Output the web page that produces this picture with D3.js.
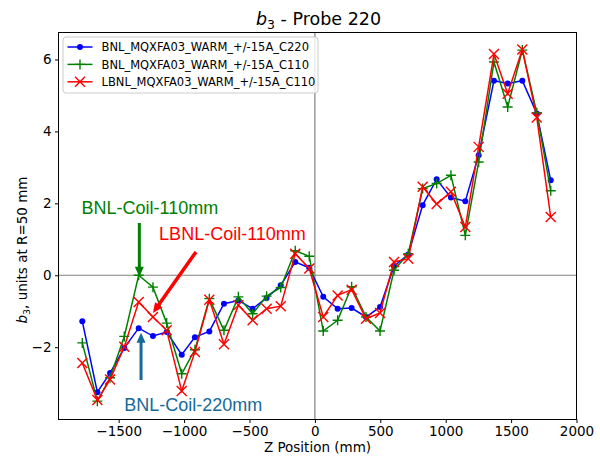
<!DOCTYPE html>
<html>
<head>
<meta charset="utf-8">
<script src="https://cdn.jsdelivr.net/npm/d3@7"></script>
<style>
  body { margin: 0; background: #fff; }
  text { font-family: "DejaVu Sans", sans-serif; }
</style>
</head>
<body>
<div id="chart"></div>
<script>
var width = 600;
var height = 457;

// z positions (mm) shared by the three scans
var zPos = [-1778, -1663, -1566, -1457, -1347, -1238, -1133, -1018, -917, -807,
            -695, -585, -476, -369, -261, -150, -43, 64, 174, 281,
            391, 498, 605, 714, 824, 931, 1040, 1150, 1252, 1369,
            1474, 1586, 1696, 1803];

var bnlC220 = [-1.28, -3.25, -2.72, -2.02, -1.47, -1.69, -1.58, -2.21, -1.72, -1.56,
               -0.79, -0.70, -0.93, -0.63, -0.28, 0.37, 0.21, -0.60, -0.93, -0.91,
               -1.16, -0.88, 0.25, 0.58, 1.95, 2.67, 2.16, 2.06, 3.34, 5.41,
               5.33, 5.41, 4.50, 2.64];

var bnlC110 = [-1.88, -3.50, -2.85, -1.70, 0.00, -0.33, -1.33, -2.74, -2.07, -0.65,
               -1.53, -0.60, -1.07, -0.58, -0.34, 0.68, 0.53, -1.55, -1.25, -0.32,
               -1.16, -1.55, 0.14, 0.60, 2.41, 2.55, 2.78, 1.11, 3.15, 5.93,
               4.68, 6.26, 4.52, 2.35];

var lbnlC110 = [-2.44, -3.47, -2.90, -1.99, -0.74, -1.16, -1.53, -3.22, -2.13, -0.68,
                -1.92, -0.83, -1.25, -0.93, -0.86, 0.60, 0.19, -1.16, -0.56, -0.40,
                -1.21, -1.05, 0.37, 0.46, 2.46, 1.98, 2.32, 1.34, 3.57, 6.15,
                5.05, 6.28, 4.39, 1.62];

var seriesNames = ["BNL_MQXFA03_WARM_+/-15A_C220", "BNL_MQXFA03_WARM_+/-15A_C110", "LBNL_MQXFA03_WARM_+/-15A_C110"];
var seriesColours = ["#0000ff", "#008000", "#ff0000"];
var seriesMarkers = ["dot", "plus", "cross"];

var xTicks = [-1500, -1000, -500, 0, 500, 1000, 1500, 2000];
var yTicks = [-2, 0, 2, 4, 6];

// annotations: text position, arrow tail, arrow tip (data coords)
var notes = [
  { label: "BNL-Coil-110mm", colour: "#008000", tx: -1261, ty: 1.69, x0: -1342, y0: 1.45, x1: -1342, y1: -0.04, sw: 3 },
  { label: "LBNL-Coil-110mm", colour: "#ff0000", tx: -630, ty: 0.98, x0: -909, y0: 0.65, x1: -1238, y1: -1.05, sw: 3.5 },
  { label: "BNL-Coil-220mm", colour: "#17699a", tx: -930, ty: -3.76, x0: -1329, y0: -2.91, x1: -1329, y1: -1.60, sw: 3 }
];

var plot = { left: 58.5, right: 576.5, top: 32.5, bottom: 419.5 };

var svg = d3.select("#chart")
    .append("svg")
    .attr("width", width)
    .attr("height", height);

var xScale = d3.scaleLinear().domain([-1960, 2000]).range([plot.left, plot.right]);
var yScale = d3.scaleLinear().domain([-4.01, 6.75]).range([plot.bottom, plot.top]);

var fmt = function(d) { return d < 0 ? "\u2212" + Math.abs(d) : "" + d; };

// zero lines
svg.append("line")
    .attr("x1", plot.left).attr("x2", plot.right)
    .attr("y1", yScale(0)).attr("y2", yScale(0))
    .style("stroke", "#808080").style("stroke-width", 1.2);
svg.append("line")
    .attr("x1", xScale(0)).attr("x2", xScale(0))
    .attr("y1", plot.top).attr("y2", plot.bottom)
    .style("stroke", "#808080").style("stroke-width", 1.2);

var g = svg.append("g");

var allSeries = [bnlC220, bnlC110, lbnlC110];

function drawMarker(sel, type, colour) {
    if (type == "dot") {
        sel.append("circle").attr("r", 3).style("fill", colour);
    } else if (type == "plus") {
        sel.append("path").attr("d", "M-5,0H5M0,-5V5")
            .style("stroke", colour).style("stroke-width", 1.4).style("fill", "none");
    } else {
        sel.append("path").attr("d", "M-5,-5L5,5M-5,5L5,-5")
            .style("stroke", colour).style("stroke-width", 1.4).style("fill", "none");
    }
}

var line = d3.line()
    .x(function(d) { return xScale(d.z); })
    .y(function(d) { return yScale(d.v); });

allSeries.forEach(function(vals, k) {
    var pts = zPos.map(function(z, i) { return { z: z, v: vals[i] }; });
    g.append("path")
        .datum(pts)
        .attr("d", line)
        .style("fill", "none")
        .style("stroke", seriesColours[k])
        .style("stroke-width", 1.5);
    g.selectAll(".m" + k)
        .data(pts)
        .enter().append("g")
        .attr("class", "m" + k)
        .attr("transform", function(d) { return "translate(" + xScale(d.z) + "," + yScale(d.v) + ")"; })
        .each(function() { drawMarker(d3.select(this), seriesMarkers[k], seriesColours[k]); });
});

// frame
svg.append("rect")
    .attr("x", plot.left).attr("y", plot.top)
    .attr("width", plot.right - plot.left).attr("height", plot.bottom - plot.top)
    .style("fill", "none").style("stroke", "#000").style("stroke-width", 1);

// axes
var xAxis = svg.append("g")
    .attr("transform", "translate(0," + plot.bottom + ")")
    .call(d3.axisBottom(xScale).tickValues(xTicks).tickFormat(fmt).tickSize(3.5).tickPadding(3.5).tickSizeOuter(0));
var yAxis = svg.append("g")
    .attr("transform", "translate(" + plot.left + ",0)")
    .call(d3.axisLeft(yScale).tickValues(yTicks).tickFormat(fmt).tickSize(3.5).tickPadding(3.5).tickSizeOuter(0));
[xAxis, yAxis].forEach(function(a) {
    a.select(".domain").remove();
    a.selectAll("text").style("font-family", "DejaVu Sans").style("font-size", "13.5px").style("fill", "#000");
    a.selectAll("line").style("stroke", "#000");
});

// title
var title = svg.append("text")
    .attr("x", (plot.left + plot.right) / 2 + 1)
    .attr("y", 25)
    .attr("text-anchor", "middle")
    .style("font-size", "17.5px");
title.append("tspan").style("font-style", "italic").text("b");
title.append("tspan").attr("dy", 4).style("font-size", "12.5px").text("3");
title.append("tspan").attr("dy", -4).text(" - Probe 220");

// axis labels
svg.append("text")
    .attr("x", (plot.left + plot.right) / 2)
    .attr("y", 452)
    .attr("text-anchor", "middle")
    .style("font-size", "13.5px")
    .text("Z Position (mm)");

var yl = svg.append("text")
    .attr("transform", "translate(27,250) rotate(-90)")
    .attr("text-anchor", "middle")
    .style("font-size", "13.5px");
yl.append("tspan").style("font-style", "italic").text("b");
yl.append("tspan").attr("dy", 3).style("font-size", "9.5px").text("3");
yl.append("tspan").attr("dy", -3).text(", units at R=50 mm");

// annotations
function arrowPath(x0, y0, x1, y1, sw, hw, hl) {
    var dx = x1 - x0, dy = y1 - y0;
    var len = Math.sqrt(dx * dx + dy * dy);
    var ux = dx / len, uy = dy / len;
    var nx = -uy, ny = ux;
    var bx = x1 - ux * hl, by = y1 - uy * hl;
    var p = [
        [x0 + nx * sw / 2, y0 + ny * sw / 2],
        [bx + nx * sw / 2, by + ny * sw / 2],
        [bx + nx * hw / 2, by + ny * hw / 2],
        [x1, y1],
        [bx - nx * hw / 2, by - ny * hw / 2],
        [bx - nx * sw / 2, by - ny * sw / 2],
        [x0 - nx * sw / 2, y0 - ny * sw / 2]
    ];
    return "M" + p.map(function(q) { return q[0] + "," + q[1]; }).join("L") + "Z";
}

notes.forEach(function(n) {
    svg.append("path")
        .attr("d", arrowPath(xScale(n.x0), yScale(n.y0), xScale(n.x1), yScale(n.y1), n.sw, 9, 10))
        .style("fill", n.colour);
    svg.append("text")
        .attr("x", xScale(n.tx))
        .attr("y", yScale(n.ty))
        .attr("text-anchor", "middle")
        .style("font-family", "Liberation Sans, Arial, sans-serif")
        .style("font-size", "18px")
        .style("fill", n.colour)
        .text(n.label);
});

// legend
var legend = svg.append("g").attr("transform", "translate(63,37)");
legend.append("rect")
    .attr("width", 255).attr("height", 56).attr("rx", 3).attr("ry", 3)
    .style("fill", "#fff").style("fill-opacity", 0.8)
    .style("stroke", "#cccccc").style("stroke-width", 1);

var rows = legend.selectAll(".legrow")
    .data(seriesNames)
    .enter().append("g")
    .attr("class", "legrow")
    .attr("transform", function(d, i) { return "translate(0," + (10 + i * 17.4) + ")"; });

rows.append("line")
    .attr("x1", 4.5).attr("x2", 29.5)
    .style("stroke", function(d, i) { return seriesColours[i]; })
    .style("stroke-width", 1.5);
rows.each(function(d, i) {
    var m = d3.select(this).append("g").attr("transform", "translate(17,0)");
    drawMarker(m, seriesMarkers[i], seriesColours[i]);
});
rows.append("text")
    .attr("x", 38.5)
    .attr("dy", "0.36em")
    .style("font-size", "11.5px")
    .text(function(d) { return d; });
</script>
</body>
</html>
